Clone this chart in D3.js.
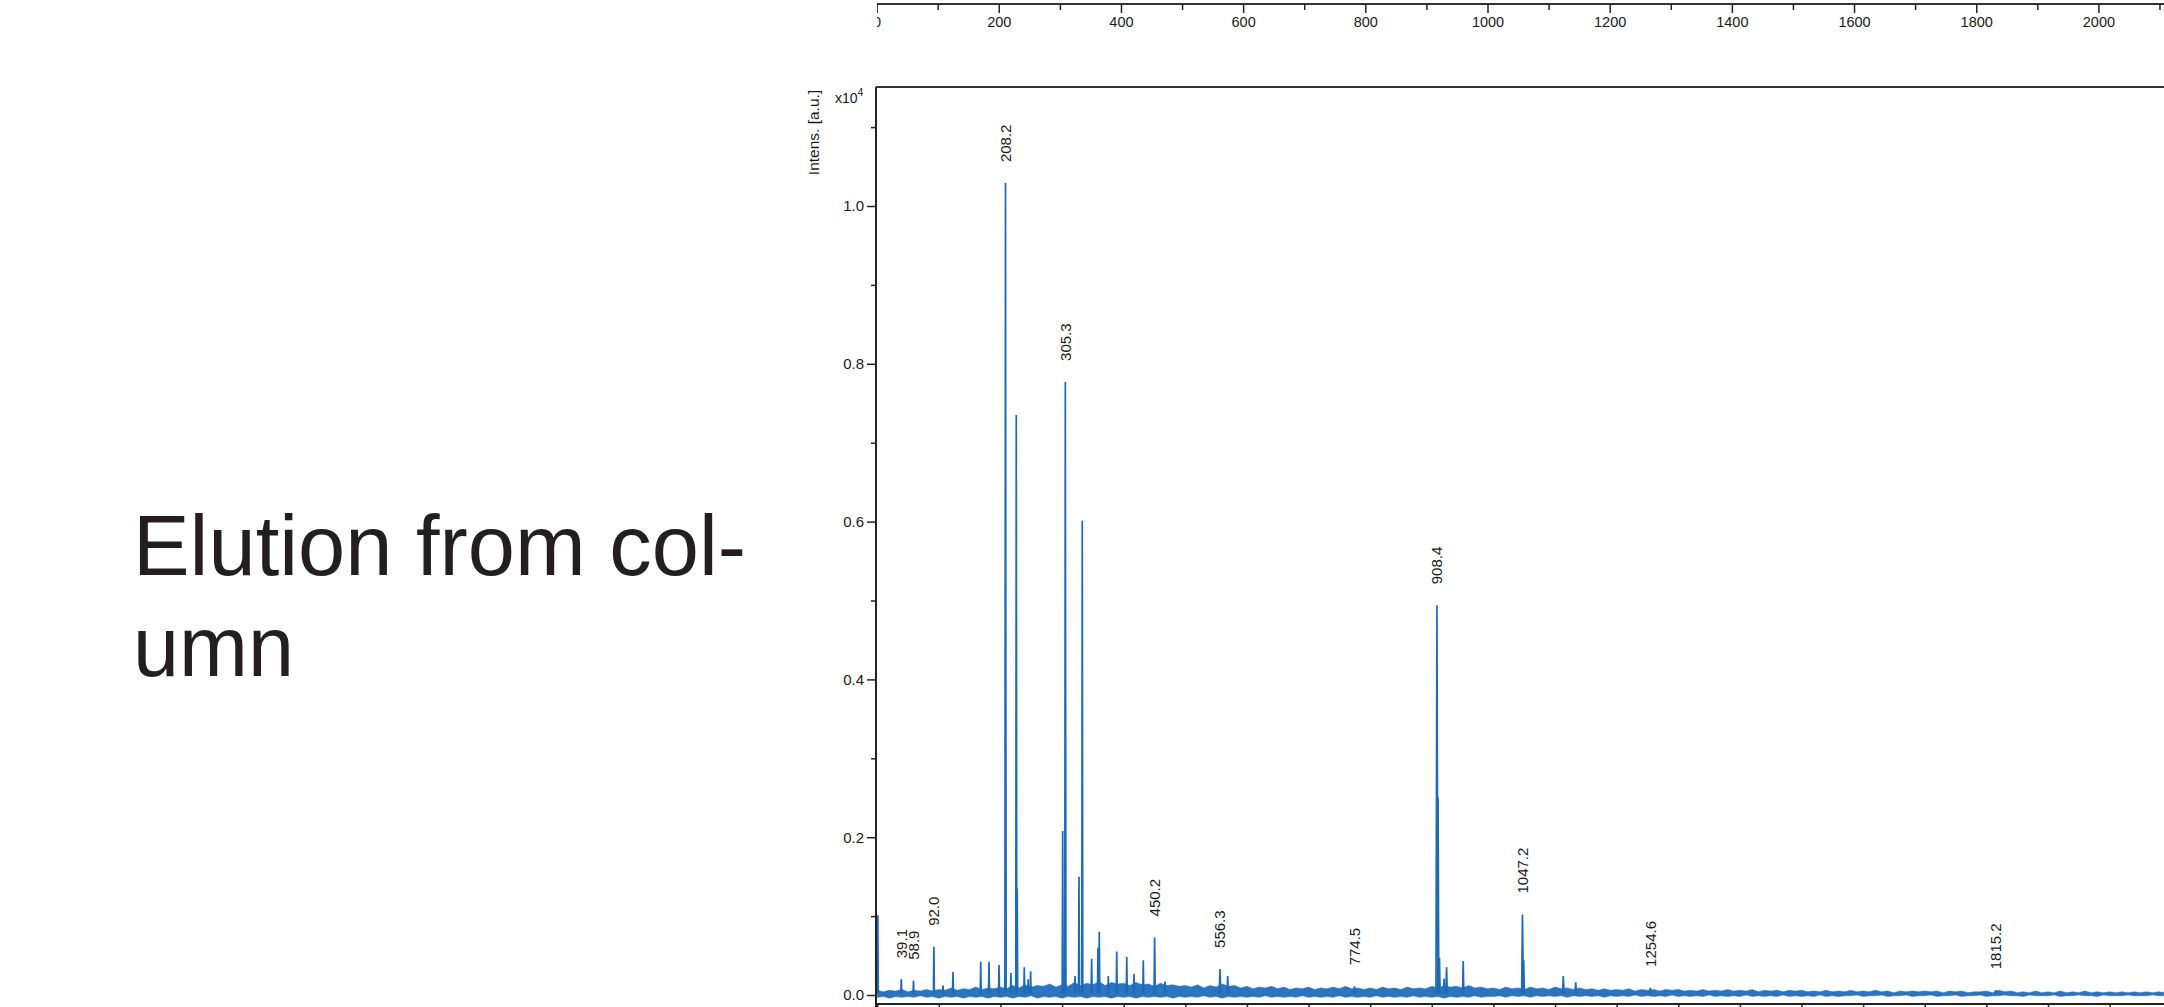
<!DOCTYPE html>
<html>
<head>
<meta charset="utf-8">
<script src="https://cdn.jsdelivr.net/npm/d3@7"></script>
<style>
  body { margin: 0; background: #fff; }
  svg { display: block; }
  text { font-family: "Liberation Sans", Arial, sans-serif; fill: #1a1a1a; }
</style>
</head>
<body>
<svg id="chart" width="2164" height="1007"></svg>
<script>
// peaks: [m/z, intensity (x10^4 a.u.), half width in m/z]
const peaks = [
  [1.0, 0.101, 0.8],
  [39.1, 0.020, 0.8],
  [58.9, 0.018, 0.8],
  [92.0, 0.061, 0.8],
  [106.8, 0.012, 1.0],
  [123.0, 0.029, 0.8],
  [168.0, 0.042, 0.8],
  [181.4, 0.042, 0.8],
  [197.7, 0.038, 0.8],
  [208.2, 1.029, 1.0],
  [217.0, 0.028, 0.8],
  [225.7, 0.735, 0.8],
  [227.2, 0.135, 0.8],
  [238.7, 0.035, 0.8],
  [245.0, 0.020, 0.8],
  [249.0, 0.030, 0.8],
  [301.0, 0.208, 0.8],
  [305.3, 0.777, 1.0],
  [321.0, 0.024, 0.8],
  [327.5, 0.150, 0.8],
  [332.8, 0.601, 0.8],
  [348.0, 0.046, 0.8],
  [358.3, 0.060, 0.8],
  [360.4, 0.080, 0.8],
  [375.0, 0.024, 0.8],
  [388.7, 0.055, 0.8],
  [405.0, 0.048, 0.8],
  [416.7, 0.027, 0.8],
  [431.8, 0.044, 0.8],
  [450.2, 0.073, 1.0],
  [467.0, 0.017, 1.0],
  [556.3, 0.033, 1.2],
  [568.8, 0.024, 1.0],
  [774.5, 0.011, 1.0],
  [908.4, 0.494, 1.6],
  [910.2, 0.250, 1.2],
  [912.5, 0.047, 1.0],
  [920.0, 0.021, 1.0],
  [924.0, 0.035, 1.2],
  [951.0, 0.043, 1.0],
  [1047.2, 0.102, 1.4],
  [1049.2, 0.044, 1.0],
  [1113.4, 0.024, 1.2],
  [1133.6, 0.016, 1.2],
  [1254.6, 0.009, 1.2],
  [1815.2, 0.006, 1.2]
];

// peaks that carry an m/z label
const labelled = [39.1, 58.9, 92.0, 208.2, 305.3, 450.2, 556.3, 774.5, 908.4, 1047.2, 1254.6, 1815.2];

// baseline noise band, one value every 10 m/z from 0 to 2100
const noiseStep = 10;
const noiseHigh = [
  0.006, 0.004, 0.006, 0.005, 0.007, 0.004, 0.006, 0.005, 0.007, 0.005,
  0.007, 0.006, 0.009, 0.006, 0.008, 0.007, 0.010, 0.007, 0.009, 0.008,
  0.010, 0.008, 0.012, 0.009, 0.013, 0.010, 0.012, 0.011, 0.014, 0.010,
  0.013, 0.011, 0.016, 0.012, 0.015, 0.013, 0.017, 0.012, 0.016, 0.014,
  0.015, 0.012, 0.016, 0.013, 0.014, 0.011, 0.015, 0.012, 0.013, 0.011,
  0.012, 0.010, 0.013, 0.009, 0.012, 0.010, 0.014, 0.011, 0.012, 0.009,
  0.011, 0.008, 0.010, 0.009, 0.011, 0.008, 0.010, 0.007, 0.009, 0.008,
  0.010, 0.007, 0.009, 0.008, 0.010, 0.008, 0.011, 0.008, 0.009, 0.007,
  0.009, 0.007, 0.010, 0.008, 0.009, 0.007, 0.010, 0.008, 0.009, 0.008,
  0.011, 0.009, 0.012, 0.010, 0.011, 0.009, 0.012, 0.009, 0.010, 0.008,
  0.009, 0.007, 0.010, 0.008, 0.009, 0.007, 0.010, 0.008, 0.009, 0.007,
  0.010, 0.008, 0.009, 0.007, 0.009, 0.007, 0.008, 0.006, 0.008, 0.006,
  0.007, 0.006, 0.008, 0.005, 0.007, 0.006, 0.007, 0.005, 0.007, 0.006,
  0.007, 0.005, 0.006, 0.005, 0.007, 0.005, 0.006, 0.005, 0.007, 0.005,
  0.006, 0.005, 0.007, 0.004, 0.006, 0.005, 0.006, 0.004, 0.006, 0.005,
  0.006, 0.004, 0.005, 0.004, 0.006, 0.004, 0.005, 0.004, 0.006, 0.004,
  0.005, 0.004, 0.006, 0.004, 0.005, 0.003, 0.005, 0.004, 0.005, 0.004,
  0.005, 0.004, 0.005, 0.003, 0.005, 0.004, 0.005, 0.003, 0.004, 0.004,
  0.005, 0.003, 0.006, 0.004, 0.005, 0.003, 0.004, 0.003, 0.005, 0.003,
  0.004, 0.003, 0.005, 0.003, 0.004, 0.003, 0.005, 0.003, 0.004, 0.003,
  0.004, 0.003, 0.004, 0.003, 0.004, 0.003, 0.004, 0.003, 0.004, 0.003,
  0.004
];
const noiseLow = [
  -0.003, -0.002, -0.004, -0.002, -0.003, -0.002, -0.003, -0.001, -0.003, -0.002,
  -0.004, -0.002, -0.003, -0.002, -0.004, -0.002, -0.003, -0.002, -0.004, -0.002,
  -0.003, -0.002, -0.004, -0.002, -0.003, -0.001, -0.004, -0.002, -0.003, -0.002,
  -0.004, -0.002, -0.003, -0.002, -0.004, -0.002, -0.003, -0.002, -0.004, -0.002,
  -0.003, -0.002, -0.004, -0.002, -0.003, -0.002, -0.003, -0.002, -0.004, -0.002,
  -0.003, -0.002, -0.003, -0.001, -0.003, -0.002, -0.004, -0.002, -0.003, -0.002,
  -0.003, -0.002, -0.003, -0.001, -0.003, -0.002, -0.003, -0.002, -0.003, -0.001,
  -0.003, -0.002, -0.003, -0.002, -0.003, -0.001, -0.003, -0.002, -0.003, -0.002,
  -0.003, -0.001, -0.003, -0.002, -0.003, -0.002, -0.003, -0.001, -0.003, -0.002,
  -0.003, -0.002, -0.004, -0.002, -0.003, -0.002, -0.003, -0.001, -0.003, -0.002,
  -0.002, -0.001, -0.003, -0.001, -0.002, -0.001, -0.003, -0.001, -0.002, -0.001,
  -0.002, -0.001, -0.003, -0.001, -0.002, -0.001, -0.002, -0.001, -0.003, -0.001,
  -0.002, -0.001, -0.002, -0.000, -0.002, -0.001, -0.002, -0.001, -0.002, -0.000,
  -0.002, -0.001, -0.002, -0.001, -0.002, -0.000, -0.002, -0.001, -0.002, -0.001,
  -0.002, -0.000, -0.002, -0.001, -0.002, -0.001, -0.002, -0.000, -0.002, -0.001,
  -0.002, -0.001, -0.002, -0.000, -0.002, -0.001, -0.002, -0.001, -0.001, -0.000,
  -0.002, -0.001, -0.001, -0.000, -0.002, -0.001, -0.001, -0.000, -0.002, -0.001,
  -0.001, -0.000, -0.002, -0.001, -0.001, -0.000, -0.002, -0.001, -0.001, -0.000,
  -0.002, -0.001, -0.001, -0.000, -0.001, -0.001, -0.002, -0.000, -0.001, -0.001,
  -0.001, -0.000, -0.002, -0.001, -0.001, -0.000, -0.001, -0.001, -0.002, -0.000,
  -0.001, -0.001, -0.001, -0.000, -0.001, -0.001, -0.001, -0.000, -0.001, -0.001,
  -0.001
];

const yTicks = [0.0, 0.2, 0.4, 0.6, 0.8, 1.0];
const yMinorTicks = [0.1, 0.3, 0.5, 0.7, 0.9, 1.1];
const xTicks = d3.range(0, 2101, 100);
const topLabels = [0, 200, 400, 600, 800, 1000, 1200, 1400, 1600, 1800, 2000];
const topMinor = [100, 300, 500, 700, 900, 1100, 1300, 1500, 1700, 1900, 2100];

const titleLines = ["Elution from col-", "umn"];

/** Class drawing the spectrum panel. */
class Spectrum {
  constructor(svg) {
    this.svg = svg;
    this.color = "#1f6ab6";
    this.left = 876;
    this.top = 87;
    this.bottom = 1004;
    this.right = 2164;

    this.x = d3.scaleLinear().domain([0, 2100]).range([877.2, 877.2 + 2100 * 0.6162]);
    this.y = d3.scaleLinear().domain([0, 1]).range([995, 206]);
    // axis of the spectrum cut off above
    this.xTop = d3.scaleLinear().domain([0, 2100]).range([876.6, 876.6 + 2100 * 0.6109]);
  }

  styleAxis(g, size) {
    g.select(".domain").remove();
    g.selectAll(".tick line").attr("stroke", "#222").attr("stroke-width", 1.5);
    g.selectAll(".tick text")
      .attr("font-family", "Liberation Sans, Arial, sans-serif")
      .attr("font-size", size)
      .attr("fill", "#1a1a1a");
  }

  drawTitle() {
    let g = this.svg.append("g");
    g.selectAll("text")
      .data(titleLines)
      .join("text")
      .attr("x", 133)
      .attr("y", (d, i) => 575 + i * 101)
      .attr("font-size", 86)
      .attr("textLength", (d, i) => i === 0 ? 613 : 161)
      .attr("lengthAdjust", "spacingAndGlyphs")
      .style("fill", "#231f20")
      .text(d => d);
  }

  drawTopAxis() {
    this.svg.append("clipPath").attr("id", "topclip")
      .append("rect").attr("x", 877).attr("y", 0).attr("width", 1300).attr("height", 40);

    let g = this.svg.append("g").attr("clip-path", "url(#topclip)");

    g.append("line")
      .attr("x1", 860).attr("x2", this.right)
      .attr("y1", 4).attr("y2", 4)
      .attr("stroke", "#333").attr("stroke-width", 2);

    let major = g.append("g").attr("transform", "translate(0,4)")
      .call(d3.axisBottom(this.xTop).tickValues(topLabels).tickSize(9).tickPadding(4).tickFormat(d3.format("d")));
    this.styleAxis(major, 14.5);

    let minor = g.append("g").attr("transform", "translate(0,4)")
      .call(d3.axisBottom(this.xTop).tickValues(topMinor).tickSize(6).tickFormat(""));
    this.styleAxis(minor, 14.5);
  }

  drawFrame() {
    // top border and the two axis lines
    this.svg.append("line")
      .attr("x1", this.left).attr("x2", this.right)
      .attr("y1", this.top).attr("y2", this.top)
      .attr("stroke", "#333").attr("stroke-width", 2);
    this.svg.append("line")
      .attr("x1", this.left).attr("x2", this.left)
      .attr("y1", this.top).attr("y2", 1007)
      .attr("stroke", "#222").attr("stroke-width", 2);
    this.svg.append("line")
      .attr("x1", this.left).attr("x2", this.right)
      .attr("y1", this.bottom).attr("y2", this.bottom)
      .attr("stroke", "#222").attr("stroke-width", 2);

    let yAxis = this.svg.append("g").attr("transform", `translate(${this.left},0)`)
      .call(d3.axisLeft(this.y).tickValues(yTicks).tickSize(9).tickPadding(3).tickFormat(d3.format(".1f")));
    this.styleAxis(yAxis, 15);

    let yMinor = this.svg.append("g").attr("transform", `translate(${this.left},0)`)
      .call(d3.axisLeft(this.y).tickValues(yMinorTicks).tickSize(5).tickFormat(""));
    this.styleAxis(yMinor, 15);

    let xAxis = this.svg.append("g").attr("transform", `translate(0,${this.bottom})`)
      .call(d3.axisBottom(this.x).tickValues(xTicks).tickSize(8).tickFormat(""));
    this.styleAxis(xAxis, 15);

    // axis title and exponent
    this.svg.append("text")
      .attr("transform", "translate(819,132.5) rotate(-90)")
      .attr("text-anchor", "middle")
      .attr("font-size", 15.5)
      .text("Intens. [a.u.]");

    let exp = this.svg.append("text")
      .attr("x", 835).attr("y", 103)
      .attr("font-size", 14);
    exp.append("tspan").text("x10");
    exp.append("tspan").attr("dy", -7).attr("font-size", 10.5).text("4");
  }

  drawTrace() {
    let g = this.svg.append("g");

    // baseline noise band
    let area = d3.area()
      .x((d, i) => this.x(i * noiseStep))
      .y0((d, i) => this.y(noiseLow[i]))
      .y1(d => this.y(d));

    g.append("path")
      .attr("d", area(noiseHigh))
      .attr("fill", "#2b74bf")
      .attr("stroke", this.color)
      .attr("stroke-width", 0.8)
      .attr("stroke-opacity", 0.6);

    // every peak as a narrow spike from the baseline
    let line = d3.line()
      .x(d => this.x(d[0]))
      .y(d => this.y(d[1]));

    g.selectAll("path.peak")
      .data(peaks)
      .join("path")
      .classed("peak", true)
      .attr("d", d => line([[d[0] - d[2], 0.002], [d[0], d[1]], [d[0] + d[2], 0.002]]))
      .attr("fill", "none")
      .attr("stroke", this.color)
      .attr("stroke-width", 1.7)
      .attr("stroke-linejoin", "miter");
  }

  drawLabels() {
    let data = labelled.map(mz => peaks.find(p => p[0] === mz));

    this.svg.append("g")
      .selectAll("text")
      .data(data)
      .join("text")
      .attr("transform", d => `translate(${this.x(d[0])},${this.y(d[1]) - 21}) rotate(-90)`)
      .attr("dy", "0.35em")
      .attr("font-size", 15)
      .text(d => d[0].toFixed(1));
  }

  draw() {
    this.drawTitle();
    this.drawTopAxis();
    this.drawTrace();
    this.drawFrame();
    this.drawLabels();
  }
}

let spectrum = new Spectrum(d3.select("#chart"));
spectrum.draw();
</script>
</body>
</html>
